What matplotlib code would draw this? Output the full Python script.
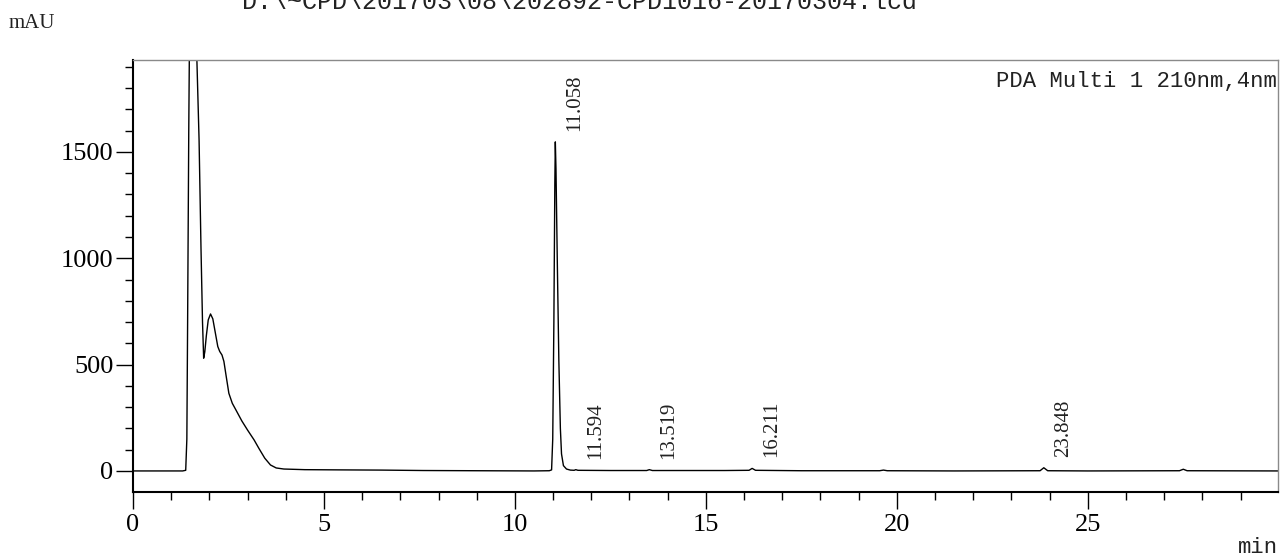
import numpy as np
import matplotlib
matplotlib.use("Agg")
import matplotlib.pyplot as plt
from matplotlib.ticker import MultipleLocator

# chromatogram trace (time in min, signal in mAU)
time = [0.0, 0.5, 1.0, 1.30, 1.38, 1.41, 1.43, 1.46, 1.49, 1.53, 1.57, 1.62,
        1.67, 1.73, 1.78, 1.82, 1.85, 1.88, 1.92, 1.97, 2.03, 2.09, 2.15,
        2.22, 2.27, 2.33, 2.38, 2.44, 2.51, 2.60, 2.70, 2.85, 3.00, 3.17,
        3.30, 3.45, 3.60, 3.75, 3.95, 4.50, 5.40, 6.50, 7.60, 9.00, 10.50,
        10.90, 10.96, 10.99, 11.02, 11.045, 11.058, 11.075, 11.11, 11.15,
        11.19, 11.22, 11.27, 11.35, 11.45, 11.55, 11.594, 11.65, 12.5, 13.45,
        13.519, 13.6, 14.5, 15.5, 16.13, 16.211, 16.3, 17.5, 19.55, 19.65,
        19.75, 21.5, 23.75, 23.848, 23.95, 25.0, 27.4, 27.5, 27.6, 29.98]
signal = [0, 0, 0, 0, 3, 150, 700, 1600, 2300, 2600, 2650, 2400,
          1950, 1556, 1050, 700, 530, 560, 635, 710, 738, 715, 655,
          585, 562, 545, 515, 445, 365, 318, 285, 235, 192, 146,
          105, 60, 28, 14, 9, 6, 5, 4, 2, 1, 0,
          1, 5, 150, 700, 1350, 1547, 1420, 980, 520,
          200, 80, 25, 9, 4, 3, 6, 3, 2, 2,
          6, 2, 2, 2, 3, 12, 3, 1, 1, 4,
          1, 0, 1, 15, 1, 0, 1, 8, 1, 0]

peak_times = [11.058, 11.594, 13.519, 16.211, 23.848]
peak_heights = [1547, 6, 6, 12, 15]
peak_labels = ["11.058", "11.594", "13.519", "16.211", "23.848"]

fig = plt.figure(figsize=(12.8, 5.56), dpi=100)
ax = fig.add_axes([133/1280, 1-492/556, (1278-133)/1280, (492-60)/556])

ax.plot(time, signal, color="black", lw=1.0)

ax.set_xlim(0, 29.98)
ax.set_ylim(-99, 1932)
ax.set_xticks([0, 5, 10, 15, 20, 25])
ax.set_yticks([0, 500, 1000, 1500])
ax.xaxis.set_minor_locator(MultipleLocator(1))
ax.yaxis.set_minor_locator(MultipleLocator(100))
ax.tick_params(which="major", direction="out", length=12, width=1, labelsize=19, pad=2)
ax.tick_params(axis="x", which="major", pad=4)
ax.tick_params(which="minor", direction="out", length=6, width=1)
for lab in ax.get_xticklabels() + ax.get_yticklabels():
    lab.set_fontfamily("Liberation Serif")

ax.spines["left"].set_linewidth(1.5)
ax.spines["bottom"].set_linewidth(1.5)
ax.spines["top"].set_color("#8a8a8a")
ax.spines["right"].set_color("#8a8a8a")
ax.spines["top"].set_linewidth(1)
ax.spines["right"].set_linewidth(1)

for t, h, s in zip(peak_times, peak_heights, peak_labels):
    ax.annotate(s, xy=(t, h), xytext=(14, 8), textcoords="offset points",
                rotation=90, ha="center", va="bottom", fontsize=15,
                family="Liberation Serif", color="#222222")

ax.text(0.999, 0.975, "PDA Multi 1 210nm,4nm", transform=ax.transAxes,
        ha="right", va="top", fontsize=16, family="Liberation Mono", color="#222222")

fig.text(9/1280, 1-28/556, "mAU", ha="left", va="baseline", fontsize=15,
         family="Liberation Serif", color="#222222")
fig.text(1278/1280, 1-553/556, "min", ha="right", va="baseline", fontsize=16,
         family="Liberation Mono", color="#222222")
fig.text(580/1280, 1-9/556, r"D:\~CPD\201703\08\202892-CPD1016-20170304.lcd",
         ha="center", va="baseline", fontsize=18, family="Liberation Mono", color="#222222")

fig.savefig("out.png", dpi=100)
